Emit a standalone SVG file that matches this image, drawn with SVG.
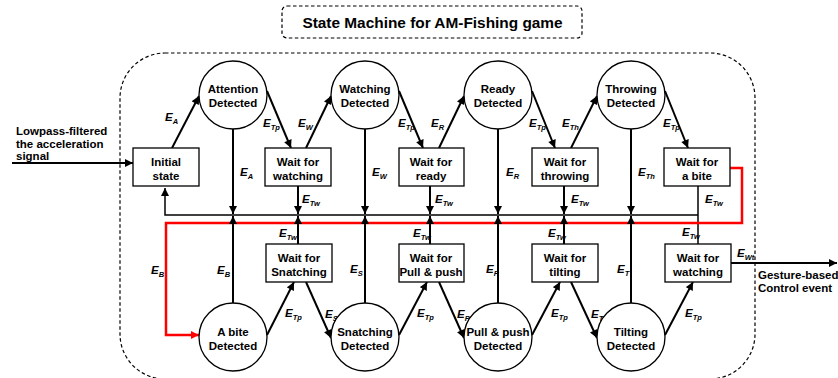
<svg xmlns="http://www.w3.org/2000/svg" width="838" height="378" viewBox="0 0 838 378">
<defs>
<style>
.n{fill:#fff;stroke:#000;stroke-width:1.3}
.t{font-family:"Liberation Sans",Arial,sans-serif;font-weight:bold;font-size:11.5px;text-anchor:middle;fill:#000}
.l{font-family:"Liberation Sans",Arial,sans-serif;font-weight:bold;font-size:11.5px;fill:#000}
.e{font-family:"Liberation Sans",Arial,sans-serif;font-weight:bold;font-style:italic;font-size:11.5px;fill:#000}
.s{font-size:7.5px}
.a{fill:none;stroke:#000;stroke-width:2;marker-end:url(#ah)}
.b{fill:none;stroke:#000;stroke-width:1.5}
.r{fill:none;stroke:#f00;stroke-width:2.5;marker-end:url(#ahr)}
.d{fill:none;stroke:#000;stroke-width:1.2;stroke-dasharray:3.5 2.5}
</style>
<marker id="ah" viewBox="0 0 10 10" refX="10" refY="5" markerWidth="9" markerHeight="8" markerUnits="userSpaceOnUse" orient="auto"><path d="M0,0 L10,5 L0,10 z" fill="#000"/></marker>
<marker id="ahr" viewBox="0 0 10 10" refX="10" refY="5" markerWidth="9" markerHeight="8" markerUnits="userSpaceOnUse" orient="auto"><path d="M0,0 L10,5 L0,10 z" fill="#f00"/></marker>
</defs>
<rect width="838" height="378" fill="#fff"/>

<g id="title">
<rect class="d" x="282" y="6" width="300" height="32" rx="5"/>
<text class="t" x="432.5" y="28" style="font-size:15.4px">State Machine for AM-Fishing game</text>
</g>
<g id="frame">
<rect class="d" x="120" y="53" width="635" height="326" rx="45"/>
</g>

<g id="connectors">
<!-- input / output -->
<line class="a" x1="12" y1="163" x2="133" y2="163"/>
<line class="a" x1="731" y1="263" x2="837" y2="263"/>
<!-- top diagonals -->
<line class="a" x1="172" y1="148" x2="199" y2="96"/>
<line class="a" x1="267" y1="91" x2="291" y2="148"/>
<line class="a" x1="306" y1="148" x2="331" y2="96"/>
<line class="a" x1="399" y1="91" x2="423" y2="148"/>
<line class="a" x1="439" y1="148" x2="464" y2="96"/>
<line class="a" x1="532" y1="91" x2="555" y2="148"/>
<line class="a" x1="571" y1="148" x2="597" y2="96"/>
<line class="a" x1="665" y1="91" x2="688" y2="148"/>
<!-- bottom diagonals -->
<line class="a" x1="267" y1="335" x2="294" y2="282"/>
<line class="a" x1="306" y1="282" x2="331" y2="338"/>
<line class="a" x1="399" y1="335" x2="427" y2="282"/>
<line class="a" x1="439" y1="282" x2="464" y2="338"/>
<line class="a" x1="532" y1="335" x2="560" y2="282"/>
<line class="a" x1="571" y1="282" x2="597" y2="338"/>
<line class="a" x1="665" y1="335" x2="693" y2="282"/>
<!-- bus -->
<polyline class="b" points="698,186 698,244"/>
<polyline class="b" points="698,215 165,215 165,188" style="marker-end:url(#ah)"/>
<!-- red -->
<polyline class="r" points="730,168 742,168 742,223 166,223 166,335 199,335"/>
<!-- vertical down -->
<line class="a" x1="233" y1="129" x2="233" y2="214"/>
<line class="a" x1="298" y1="186" x2="298" y2="214"/>
<line class="a" x1="365" y1="129" x2="365" y2="214"/>
<line class="a" x1="430" y1="186" x2="430" y2="214"/>
<line class="a" x1="498" y1="129" x2="498" y2="214"/>
<line class="a" x1="564" y1="186" x2="564" y2="214"/>
<line class="a" x1="631" y1="129" x2="631" y2="214"/>
<!-- vertical up -->
<line class="a" x1="233" y1="303" x2="233" y2="216"/>
<line class="a" x1="298" y1="244" x2="298" y2="216"/>
<line class="a" x1="365" y1="303" x2="365" y2="216"/>
<line class="a" x1="430" y1="244" x2="430" y2="216"/>
<line class="a" x1="498" y1="303" x2="498" y2="216"/>
<line class="a" x1="564" y1="244" x2="564" y2="216"/>
<line class="a" x1="631" y1="303" x2="631" y2="216"/>

<!-- labels -->
<text class="e" x="165" y="121">E<tspan class="s" dy="3">A</tspan></text>
<text class="e" x="263" y="127">E<tspan class="s" dy="3">Tp</tspan></text>
<text class="e" x="298" y="127">E<tspan class="s" dy="3">W</tspan></text>
<text class="e" x="398" y="127">E<tspan class="s" dy="3">Tp</tspan></text>
<text class="e" x="431" y="127">E<tspan class="s" dy="3">R</tspan></text>
<text class="e" x="529" y="127">E<tspan class="s" dy="3">Tp</tspan></text>
<text class="e" x="562" y="127">E<tspan class="s" dy="3">Th</tspan></text>
<text class="e" x="663" y="127">E<tspan class="s" dy="3">Tp</tspan></text>

<text class="e" x="240" y="176">E<tspan class="s" dy="3">A</tspan></text>
<text class="e" x="372" y="176">E<tspan class="s" dy="3">W</tspan></text>
<text class="e" x="506" y="176">E<tspan class="s" dy="3">R</tspan></text>
<text class="e" x="638" y="176">E<tspan class="s" dy="3">Th</tspan></text>

<text class="e" x="302" y="203">E<tspan class="s" dy="3">Tw</tspan></text>
<text class="e" x="435" y="203">E<tspan class="s" dy="3">Tw</tspan></text>
<text class="e" x="571" y="203">E<tspan class="s" dy="3">Tw</tspan></text>
<text class="e" x="705" y="203">E<tspan class="s" dy="3">Tw</tspan></text>

<text class="e" x="279" y="237">E<tspan class="s" dy="3">Tw</tspan></text>
<text class="e" x="413" y="237">E<tspan class="s" dy="3">Tw</tspan></text>
<text class="e" x="548" y="237">E<tspan class="s" dy="3">Tw</tspan></text>
<text class="e" x="682" y="236">E<tspan class="s" dy="3">Tw</tspan></text>
<text class="e" x="737" y="257">E<tspan class="s" dy="3">Wt</tspan></text>

<text class="e" x="151" y="274">E<tspan class="s" dy="3">B</tspan></text>
<text class="e" x="217" y="274">E<tspan class="s" dy="3">B</tspan></text>
<text class="e" x="350" y="273">E<tspan class="s" dy="3">S</tspan></text>
<text class="e" x="486" y="273">E<tspan class="s" dy="3">P</tspan></text>
<text class="e" x="617" y="273">E<tspan class="s" dy="3">T</tspan></text>

<text class="e" x="285" y="317">E<tspan class="s" dy="3">Tp</tspan></text>
<text class="e" x="325" y="318">E<tspan class="s" dy="3">S</tspan></text>
<text class="e" x="417" y="317">E<tspan class="s" dy="3">Tp</tspan></text>
<text class="e" x="457" y="318">E<tspan class="s" dy="3">P</tspan></text>
<text class="e" x="551" y="317">E<tspan class="s" dy="3">Tp</tspan></text>
<text class="e" x="591" y="318">E<tspan class="s" dy="3">T</tspan></text>
<text class="e" x="685" y="317">E<tspan class="s" dy="3">Tp</tspan></text>
</g>

<g id="input-label">
<text class="l" x="16" y="135">Lowpass-filtered</text>
<text class="l" x="16" y="147.5">the acceleration</text>
<text class="l" x="16" y="160">signal</text>
</g>
<g id="output-label">
<text class="l" x="758" y="279">Gesture-based</text>
<text class="l" x="758" y="292">Control event</text>
</g>

<g id="initial"><rect class="n" x="133" y="148" width="66" height="38"/><text class="t" x="166" y="166">Initial</text><text class="t" x="166" y="180">state</text></g>
<g id="attention"><circle class="n" cx="233" cy="95" r="34"/><text class="t" x="233" y="93">Attention</text><text class="t" x="233" y="107">Detected</text></g>
<g id="wait-watching1"><rect class="n" x="265" y="148" width="66" height="38"/><text class="t" x="298" y="166">Wait for</text><text class="t" x="298" y="180">watching</text></g>
<g id="watching"><circle class="n" cx="365" cy="95" r="34"/><text class="t" x="365" y="93">Watching</text><text class="t" x="365" y="107">Detected</text></g>
<g id="wait-ready"><rect class="n" x="399" y="148" width="65" height="38"/><text class="t" x="431" y="166">Wait for</text><text class="t" x="431" y="180">ready</text></g>
<g id="ready"><circle class="n" cx="498" cy="95" r="34"/><text class="t" x="498" y="93">Ready</text><text class="t" x="498" y="107">Detected</text></g>
<g id="wait-throwing"><rect class="n" x="532" y="148" width="66" height="38"/><text class="t" x="565" y="166">Wait for</text><text class="t" x="565" y="180">throwing</text></g>
<g id="throwing"><circle class="n" cx="631" cy="95" r="34"/><text class="t" x="631" y="93">Throwing</text><text class="t" x="631" y="107">Detected</text></g>
<g id="wait-bite"><rect class="n" x="664" y="148" width="66" height="38"/><text class="t" x="697" y="166">Wait for</text><text class="t" x="697" y="180">a bite</text></g>

<g id="bite"><circle class="n" cx="233" cy="337" r="34"/><text class="t" x="233" y="336">A bite</text><text class="t" x="233" y="350">Detected</text></g>
<g id="wait-snatching"><rect class="n" x="266" y="244" width="66" height="38"/><text class="t" x="299" y="262">Wait for</text><text class="t" x="299" y="276">Snatching</text></g>
<g id="snatching"><circle class="n" cx="365" cy="337" r="34"/><text class="t" x="365" y="336">Snatching</text><text class="t" x="365" y="350">Detected</text></g>
<g id="wait-pull"><rect class="n" x="399" y="244" width="65" height="38"/><text class="t" x="431" y="262">Wait for</text><text class="t" x="431" y="276">Pull &amp; push</text></g>
<g id="pull"><circle class="n" cx="498" cy="337" r="34"/><text class="t" x="498" y="336">Pull &amp; push</text><text class="t" x="498" y="350">Detected</text></g>
<g id="wait-tilting"><rect class="n" x="532" y="244" width="66" height="38"/><text class="t" x="565" y="262">Wait for</text><text class="t" x="565" y="276">tilting</text></g>
<g id="tilting"><circle class="n" cx="631" cy="337" r="34"/><text class="t" x="631" y="336">Tilting</text><text class="t" x="631" y="350">Detected</text></g>
<g id="wait-watching2"><rect class="n" x="665" y="244" width="66" height="38"/><text class="t" x="698" y="262">Wait for</text><text class="t" x="698" y="276">watching</text></g>
</svg>
